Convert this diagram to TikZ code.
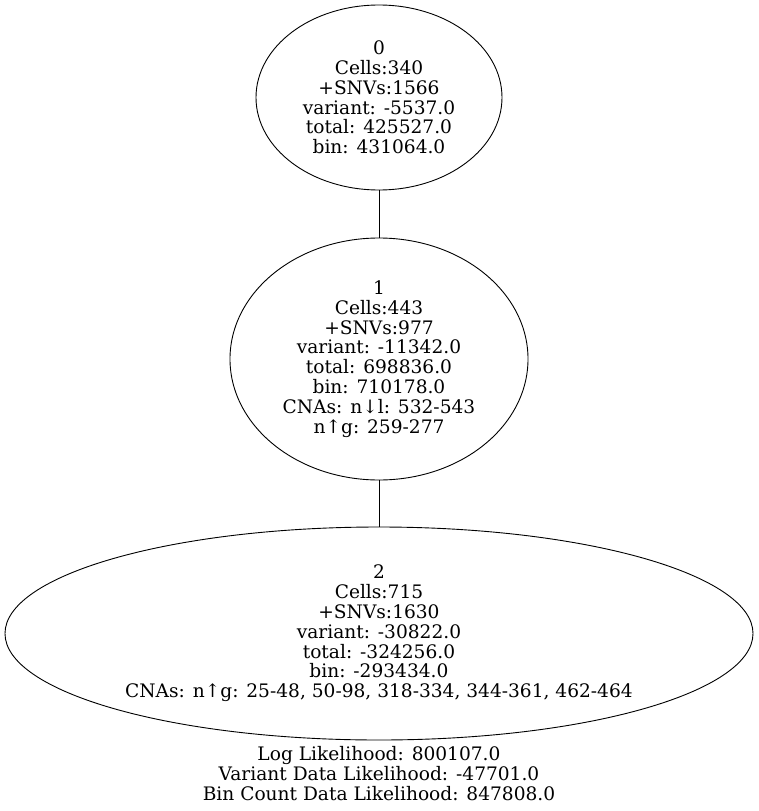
\documentclass[tikz,border=0pt]{standalone}
\usepackage{fontspec}
\setmainfont{DejaVu Serif}
\usetikzlibrary{shapes.geometric}
\begin{document}
\begin{tikzpicture}[x=1pt,y=-1pt,
  treenode/.style={draw=black, line width=0.9pt, ellipse, inner sep=0pt,
    align=center, font=\fontsize{18.6}{19.8}\selectfont},
  treeedge/.style={draw=black, line width=0.9pt},
  caption/.style={align=center, inner sep=0pt, font=\fontsize{18.6}{19.6}\selectfont}]
\useasboundingbox (0,0) rectangle (759,811);
\node[treenode, minimum width=246pt, minimum height=185pt] (n0) at (379,97.5)
  {0\\Cells:340\\+SNVs:1566\\variant: -5537.0\\total: 425527.0\\bin: 431064.0};
\node[treenode, minimum width=298pt, minimum height=242pt] (n1) at (379,359)
  {1\\Cells:443\\+SNVs:977\\variant: -11342.0\\total: 698836.0\\bin: 710178.0\\CNAs: n↓l: 532-543\\n↑g: 259-277};
\node[treenode, minimum width=748pt, minimum height=213pt] (n2) at (379,633.5)
  {2\\Cells:715\\+SNVs:1630\\variant: -30822.0\\total: -324256.0\\bin: -293434.0\\CNAs: n↑g: 25-48, 50-98, 318-334, 344-361, 462-464};
\draw[treeedge] (n0) -- (n1);
\draw[treeedge] (n1) -- (n2);
\node[caption] (ll) at (379,773.5)
  {Log Likelihood: 800107.0\\Variant Data Likelihood: -47701.0\\Bin Count Data Likelihood: 847808.0};
\end{tikzpicture}
\end{document}
